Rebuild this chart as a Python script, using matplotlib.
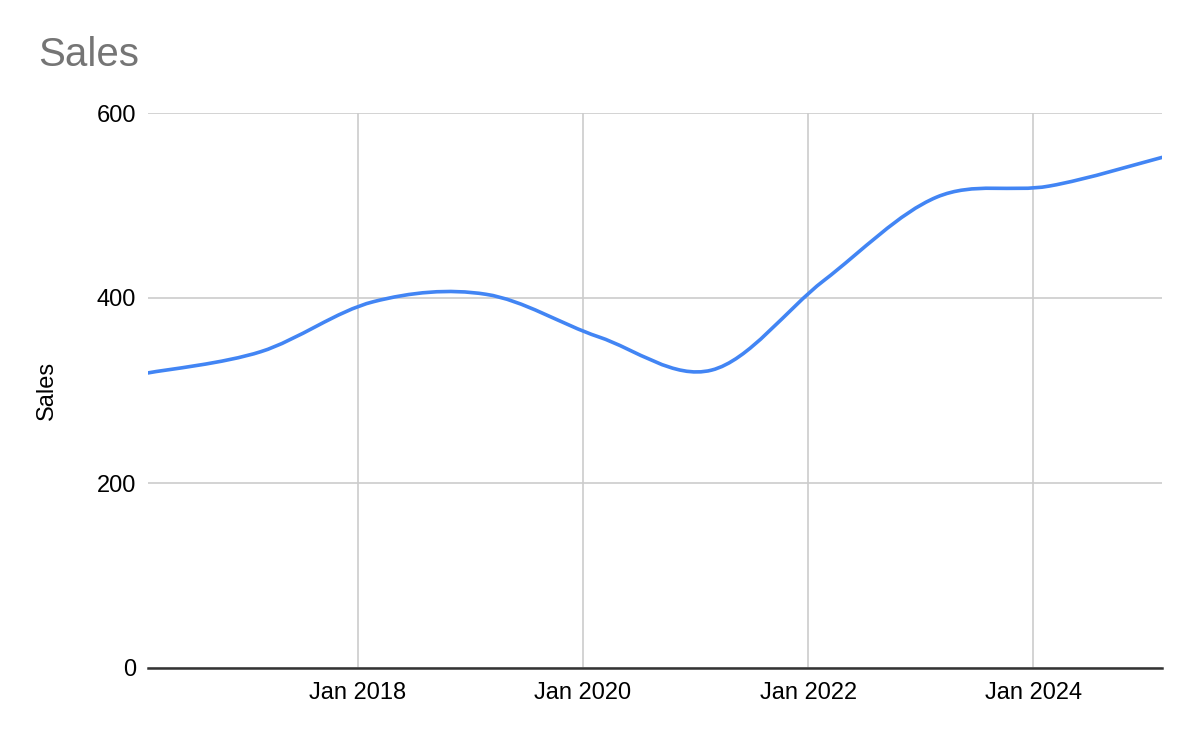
import matplotlib
matplotlib.use("Agg")
import matplotlib.pyplot as plt
import matplotlib.dates as mdates
from matplotlib.path import Path
from matplotlib.patches import PathPatch
import numpy as np
import pandas as pd

# yearly sales figures
dates = ["2016-02-21", "2017-02-21", "2018-02-21", "2019-02-21", "2020-02-21",
         "2021-02-21", "2022-02-21", "2023-02-21", "2024-02-21", "2025-02-21"]
sales = [319, 342, 396, 404, 358, 322, 419, 509, 521, 552]

y_ticks = [0, 200, 400, 600]
x_tick_dates = ["2018-01-01", "2020-01-01", "2022-01-01", "2024-01-01"]
x_tick_labels = ["Jan 2018", "Jan 2020", "Jan 2022", "Jan 2024"]

plt.rcParams["font.family"] = ["Liberation Sans", "DejaVu Sans"]

x = mdates.date2num(pd.to_datetime(dates))
y = np.array(sales, dtype=float)


def smooth_path(xs, ys):
    # Catmull-Rom style cubic bezier through every data point
    px = np.concatenate([[xs[0]], xs, [xs[-1]]])
    py = np.concatenate([[ys[0]], ys, [ys[-1]]])
    verts = [(xs[0], ys[0])]
    codes = [Path.MOVETO]
    for i in range(1, len(px) - 2):
        c1 = (px[i] + (px[i + 1] - px[i - 1]) / 6, py[i] + (py[i + 1] - py[i - 1]) / 6)
        c2 = (px[i + 1] - (px[i + 2] - px[i]) / 6, py[i + 1] - (py[i + 2] - py[i]) / 6)
        verts += [c1, c2, (px[i + 1], py[i + 1])]
        codes += [Path.CURVE4] * 3
    return Path(verts, codes)


fig = plt.figure(figsize=(12, 7.42), dpi=100)
ax = fig.add_axes([148 / 1200, 1 - 668 / 742, (1162 - 148) / 1200, (668 - 113) / 742])

ax.add_patch(PathPatch(smooth_path(x, y), facecolor="none", edgecolor="#4285f4",
                       linewidth=2.6, capstyle="round", joinstyle="round", zorder=3))

ax.set_xlim(x[0], x[-1])
ax.set_ylim(0, 600)
ax.set_yticks(y_ticks)
ax.set_xticks(mdates.date2num(pd.to_datetime(x_tick_dates)))
ax.set_xticklabels(x_tick_labels)

ax.grid(True, color="#cccccc", linewidth=1.2)
ax.set_axisbelow(True)
for side in ["left", "right", "top"]:
    ax.spines[side].set_visible(False)
ax.spines["bottom"].set_color("#333333")
ax.spines["bottom"].set_linewidth(1.8)
ax.spines["bottom"].set_zorder(4)
ax.tick_params(axis="both", length=0, labelsize=17, colors="#000000")
ax.tick_params(axis="y", pad=8.5)
ax.tick_params(axis="x", pad=10)

ax.set_ylabel("Sales", fontsize=17, labelpad=28)
fig.text(38 / 1200, 1 - 55 / 742, "Sales", fontsize=29, color="#757575",
         ha="left", va="center")

plt.savefig("out.png", dpi=100)
plt.close(fig)
